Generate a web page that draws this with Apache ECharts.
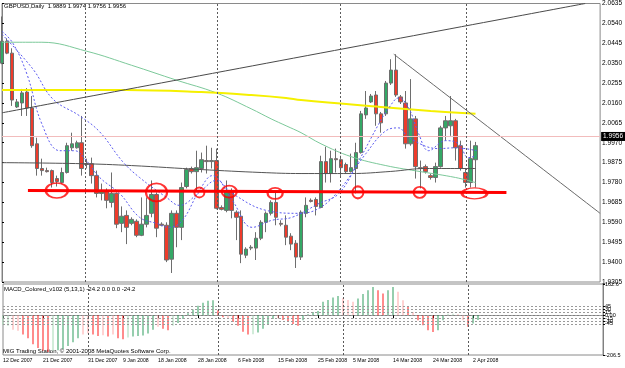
<!DOCTYPE html>
<html>
<head>
<meta charset="utf-8">
<script src="https://cdn.jsdelivr.net/npm/echarts@6/dist/echarts.min.js"></script>
<style>
html, body { margin: 0; padding: 0; background: #fff; }
#chart { width: 625px; height: 368px; }
</style>
</head>
<body>
<div id="chart"></div>
<script>
// GBPUSD daily candles (bar 0 = 12 Dec 2007)
const opens = [2.0350,2.0455,2.0398,2.0141,2.0160,2.0212,2.0136,1.9965,1.9847,1.9837,
  1.9837,1.9799,1.9780,1.9828,1.9946,1.9946,1.9970,1.9870,1.9870,1.9813,
  1.9728,1.9737,1.9685,1.9728,1.9585,1.9623,1.9585,1.9595,1.9528,1.9581,
  1.9633,1.9723,1.9581,1.9576,1.9414,1.9633,1.9566,1.9761,1.9847,1.9832,
  1.9847,1.9885,1.9880,1.9885,1.9661,1.9647,1.9742,1.9638,1.9619,1.9433,
  1.9467,1.9467,1.9514,1.9590,1.9633,1.9685,1.9585,1.9576,1.9524,1.9490,
  1.9424,1.9633,1.9695,1.9699,1.9661,1.9880,1.9823,1.9894,1.9889,1.9866,
  1.9832,1.9847,1.9923,2.0103,2.0165,2.0198,2.0108,2.0108,2.0255,2.0317,
  2.0189,2.0160,1.9965,2.0084,1.9851,1.9856,1.9813,1.9804,1.9856,2.0041,
  2.0051,2.0075,1.9956,1.9828,1.9780,1.9889];
const closes = [2.0455,2.0398,2.0174,2.0165,2.0208,2.0136,1.9956,1.9847,1.9837,1.9832,
  1.9780,1.9785,1.9828,1.9956,1.9965,1.9970,1.9847,1.9866,1.9813,1.9728,
  1.9742,1.9695,1.9728,1.9581,1.9619,1.9566,1.9604,1.9528,1.9581,1.9623,
  1.9723,1.9562,1.9576,1.9410,1.9633,1.9566,1.9756,1.9842,1.9832,1.9851,
  1.9889,1.9880,1.9885,1.9657,1.9652,1.9742,1.9647,1.9614,1.9438,1.9462,
  1.9471,1.9514,1.9590,1.9633,1.9685,1.9614,1.9581,1.9519,1.9486,1.9424,
  1.9638,1.9671,1.9690,1.9666,1.9880,1.9823,1.9894,1.9889,1.9851,1.9832,
  1.9851,1.9923,2.0108,2.0136,2.0193,2.0108,2.0065,2.0255,2.0317,2.0198,
  2.0165,1.9965,2.0084,1.9856,1.9847,1.9832,1.9804,1.9856,2.0041,2.0075,
  2.0075,1.9946,1.9847,1.9780,1.9894,1.9956];
const lows = [2.0345,2.0393,2.0146,2.0136,2.0098,2.0098,1.9946,1.9813,1.9813,1.9828,
  1.9756,1.9761,1.9775,1.9823,1.9932,1.9942,1.9813,1.9847,1.9775,1.9709,
  1.9695,1.9657,1.9661,1.9562,1.9543,1.9486,1.9576,1.9519,1.9524,1.9566,
  1.9614,1.9519,1.9571,1.9400,1.9348,1.9471,1.9505,1.9752,1.9823,1.9742,
  1.9828,1.9823,1.9847,1.9652,1.9647,1.9638,1.9609,1.9505,1.9395,1.9419,
  1.9457,1.9410,1.9505,1.9543,1.9623,1.9576,1.9571,1.9481,1.9457,1.9372,
  1.9410,1.9614,1.9685,1.9623,1.9657,1.9780,1.9780,1.9828,1.9804,1.9823,
  1.9828,1.9728,1.9918,2.0084,2.0160,2.0051,2.0018,2.0098,2.0246,2.0189,
  2.0155,1.9942,1.9956,1.9799,1.9752,1.9823,1.9794,1.9780,1.9851,1.9980,
  2.0003,1.9885,1.9837,1.9756,1.9756,1.9756];
const highs = [2.0573,2.0469,2.0421,2.0179,2.0227,2.0231,2.0193,1.9994,1.9894,1.9851,
  1.9842,1.9813,1.9851,1.9970,2.0018,1.9980,2.0098,1.9894,1.9899,1.9837,
  1.9775,1.9752,1.9828,1.9733,1.9666,1.9647,1.9614,1.9604,1.9709,1.9709,
  1.9790,1.9733,1.9590,1.9590,1.9647,1.9647,1.9780,1.9851,1.9856,1.9932,
  1.9923,1.9956,1.9946,1.9942,1.9671,1.9790,1.9752,1.9647,1.9647,1.9471,
  1.9481,1.9543,1.9600,1.9642,1.9695,1.9733,1.9600,1.9623,1.9538,1.9505,
  1.9647,1.9709,1.9704,1.9709,1.9908,1.9951,1.9932,1.9942,1.9908,1.9875,
  1.9918,1.9970,2.0122,2.0217,2.0203,2.0217,2.0117,2.0265,2.0369,2.0393,
  2.0198,2.0217,2.0274,2.0098,1.9885,1.9866,1.9823,1.9875,2.0051,2.0098,
  2.0193,2.0084,1.9980,1.9847,1.9980,1.9974];

// MACD_Colored histogram and its colour (G rising, g weak rise, R falling, r weak fall)
const macdValues = [-52,-55,-75,-80,-100,-120,-150,-170,-185,-191,
  -185,-182,-175,-160,-140,-120,-100,-95,-100,-108,
  -104,-110,-100,-120,-125,-115,-110,-108,-105,-95,
  -75,-60,-70,-78,-55,-40,-20,10,30,50,
  65,75,78,26,-10,-15,-35,-55,-85,-100,
  -98,-90,-70,-45,-20,-15,-25,-35,-45,-55,
  -26,5,17,22,70,80,92,100,90,80,
  70,87,110,130,147,130,113,130,147,122,
  78,43,17,-26,-52,-78,-87,-78,-26,8,
  8,5,-26,-60,-43,-24.2];
const macdTone = 'ggrrRRRRRR' + 'gGGGGGrrRR' + 'rRrRRgGGGG' + 'GrRRgGGGGG' + 'GGGRRrRRRR' +
  'gGGGGrRRRR' + 'GGGGGGGGrr' + 'rGGGGRRGGr' + 'rRrRRRRGGg' + 'grrRGG';

// indicator lines as [bar, price]
const blueFast = [[0,2.0502],[2.2,2.0445],[5,2.0298],[8,2.0060],[11.6,1.9932],[14.6,1.9932],[16.6,1.9894],
  [19.6,1.9804],[23.6,1.9728],[27.6,1.9614],[31,1.9585],[33.6,1.9566],[36.2,1.9600],[39.6,1.9742],
  [42.2,1.9813],[46.2,1.9695],[50.2,1.9566],[54.2,1.9600],[58.2,1.9614],[63.6,1.9680],[67.6,1.9728],
  [71.6,1.9885],[75.6,2.0060],[77.6,2.0136],[79.6,2.0184],[81.6,2.0136],[83.6,2.0013],[85.6,1.9932],
  [89,1.9980],[91.6,1.9965],[93.6,1.9899],[95.2,1.9908]];
const blueSlow = [[0,2.0488],[6.2,2.0322],[10.2,2.0179],[15.6,2.0098],[19.6,2.0022],[24.2,1.9880],
  [27.6,1.9804],[33,1.9709],[35.6,1.9671],[39.6,1.9733],[43,1.9790],[46.2,1.9728],[53,1.9647],
  [59.6,1.9633],[63.6,1.9657],[67.6,1.9742],[73,1.9918],[77,2.0027],[79.6,2.0041],[81.6,1.9994],
  [87.6,1.9942],[91,1.9946],[95.2,1.9932]];
const greenMa = [[0,2.0450],[8,2.0450],[17,2.0407],[26,2.0340],[35,2.0269],[43,2.0208],[50,2.0132],
  [54,2.0084],[57,2.0051],[60,2.0018],[64,1.9965],[70,1.9904],[77,1.9861],[84,1.9832],[91,1.9804],[95,1.9780]];
const yellowMa = [[0,2.0222],[25,2.0222],[40,2.0212],[50,2.0198],[57,2.0184],[60,2.0174],[76,2.0141],[86,2.0122],[95,2.0108]];
const blackMa = [[0,1.9875],[16,1.9870],[26,1.9861],[40,1.9842],[52,1.9828],[60,1.9823],[70,1.9823],[78,1.9833],[85,1.9847],[95,1.9847]];
const trendUp = [[0,2.0113],[117,2.0635]];
const trendDown = [[78.6,2.0393],[120,1.9633]];
const support = [[5.2,1.9742],[101.2,1.9733]];
const rings = [[11,1.9742],[31,1.9733],[39.6,1.9733],[45.6,1.9737],[54.8,1.9728],[71.4,1.9733],[83.8,1.9733],[94.8,1.9728]];
const ringSizes = [[22,15],[21,18],[10,10],[15,12],[15,11],[11,12],[12,11],[25,11]];
const monthSeps = [16.8, 43.2, 67.8, 93.2];

const lastPrice = 1.9956;
const priceTicks = [1.9305,1.9400,1.9495,1.9590,1.9685,1.9780,1.9875,1.9970,2.0065,2.0160,2.0255,2.0350,2.0445,2.0540,2.0635];
const macdTicks = [-206.5,-45,-30,-15,0,15,30,45,162.6];
const dateTicks = [[0,'12 Dec 2007'],[8,'21 Dec 2007'],[17,'31 Dec 2007'],[24,'9 Jan 2008'],[31,'18 Jan 2008'],
  [39,'28 Jan 2008'],[47,'6 Feb 2008'],[55,'15 Feb 2008'],[63,'25 Feb 2008'],[70,'5 Mar 2008'],
  [78,'14 Mar 2008'],[86,'24 Mar 2008'],[94,'2 Apr 2008']];

const slotCount = 121; // bar slots across the chart width, right part is empty
const slots = Array.from({ length: slotCount }, (_, i) => String(i));
const tickMap = {};
dateTicks.forEach(([i, t]) => { tickMap[String(i)] = t; });
const candles = opens.map((o, i) => [o, closes[i], lows[i], highs[i]]);
const toneColor = { G: '#2f9e5f', g: '#a3d9b4', R: '#ff1a1a', r: '#ffa6a6' };
const macdBars = macdValues.map((v, i) => ({ value: v, itemStyle: { color: toneColor[macdTone[i]] } }));

const font = 'Liberation Sans, Arial, sans-serif';
const chart = echarts.init(document.getElementById('chart'), null, { renderer: 'canvas', devicePixelRatio: 1 });

function overlay(data, color, width, type, z) {
    return {
        type: 'line',
        xAxisIndex: 1,
        yAxisIndex: 0,
        data: data,
        smooth: 0.4,
        showSymbol: false,
        silent: true,
        z: z || 3,
        lineStyle: { color: color, width: width, type: type || 'solid' }
    };
}

chart.setOption({
    animation: false,
    backgroundColor: '#fff',
    textStyle: { fontFamily: font },
    grid: [
        { left: 2, top: 2, width: 601, height: 280, show: true, borderColor: '#8a8a8a', borderWidth: 1 },
        { left: 2, top: 284, width: 601, height: 71, show: true, borderColor: '#8a8a8a', borderWidth: 1 }
    ],
    xAxis: [
        { type: 'category', gridIndex: 0, data: slots, boundaryGap: false, show: false },
        { type: 'value', gridIndex: 0, min: 0, max: slotCount - 1, show: false },
        {
            type: 'category',
            gridIndex: 1,
            data: slots,
            boundaryGap: false,
            axisLine: { lineStyle: { color: '#808080' } },
            axisTick: { interval: (i, v) => v in tickMap, length: 3, lineStyle: { color: '#000' } },
            axisLabel: {
                interval: (i, v) => v in tickMap,
                formatter: v => tickMap[v] || '',
                align: 'left',
                fontSize: 5.2,
                color: '#000',
                margin: 3
            },
            splitLine: { show: false }
        }
    ],
    yAxis: [
        {
            type: 'value',
            gridIndex: 0,
            position: 'right',
            min: 1.9305,
            max: 2.0635,
            axisLine: { show: true, lineStyle: { color: '#808080' } },
            axisTick: { show: true, customValues: priceTicks, length: 2, lineStyle: { color: '#000' } },
            axisLabel: { customValues: priceTicks, formatter: v => v.toFixed(4), fontSize: 6.5, color: '#000', margin: 2 },
            splitLine: { show: false }
        },
        {
            type: 'value',
            gridIndex: 1,
            position: 'right',
            min: -206.5,
            max: 162.6,
            axisLine: { show: true, lineStyle: { color: '#808080' } },
            axisTick: { show: true, customValues: macdTicks, length: 2, lineStyle: { color: '#000' } },
            axisLabel: {
                customValues: macdTicks,
                formatter: v => (v === 0 ? '0.00' : String(v)),
                fontSize: 5.5,
                color: '#000',
                margin: 2
            },
            splitLine: { show: false }
        }
    ],
    graphic: [
        { type: 'text', left: 4, top: 3, style: { text: 'GBPUSD,Daily  1.9889 1.9974 1.9756 1.9956', font: '6px ' + font, fill: '#000' } },
        { type: 'text', left: 4, top: 286, style: { text: 'MACD_Colored_v102 (5,13,1) -24.2 0.0 0.0 -24.2', font: '6px ' + font, fill: '#000' } },
        { type: 'text', left: 3, top: 348, style: { text: 'MIG Trading Station, © 2001-2008 MetaQuotes Software Corp.', font: '6px ' + font, fill: '#000' } }
    ],
    series: [
        {
            type: 'candlestick',
            xAxisIndex: 0,
            yAxisIndex: 0,
            data: candles,
            barWidth: 4,
            z: 2,
            itemStyle: {
                color: '#34a866',
                color0: '#ee3b2b',
                borderColor: '#6e6e6e',
                borderColor0: '#6e6e6e',
                borderWidth: 1
            },
            markLine: {
                silent: true,
                symbol: ['none', 'none'],
                lineStyle: { color: '#f2bcbc', type: 'solid', width: 1 },
                label: {
                    show: true,
                    position: 'end',
                    formatter: lastPrice.toFixed(4),
                    backgroundColor: '#000',
                    color: '#fff',
                    fontSize: 6.5,
                    padding: [1, 2],
                    distance: 1
                },
                data: [{ yAxis: lastPrice }]
            }
        },
        overlay(greenMa, '#7cc99a', 1),
        overlay(blackMa, '#555555', 1),
        overlay(yellowMa, '#f5f000', 2),
        overlay(blueSlow, '#5b5bf0', 1, [2, 2]),
        overlay(blueFast, '#5b5bf0', 1, [2, 2]),
        overlay(trendUp, '#4a4a4a', 1),
        overlay(trendDown, '#6a6a6a', 1),
        Object.assign(overlay(support, '#ff0000', 3, 'solid', 5), {
            markLine: {
                silent: true,
                symbol: ['none', 'none'],
                label: { show: false },
                lineStyle: { color: '#5a5a5a', type: [2, 2], width: 1 },
                data: monthSeps.map(v => ({ xAxis: v }))
            }
        }),
        {
            type: 'scatter',
            xAxisIndex: 1,
            yAxisIndex: 0,
            z: 6,
            silent: true,
            symbol: 'circle',
            data: rings.map((p, k) => ({ value: p, symbolSize: ringSizes[k] })),
            itemStyle: { color: 'rgba(0,0,0,0)', borderColor: '#ff0000', borderWidth: 2 }
        },
        {
            type: 'bar',
            xAxisIndex: 2,
            yAxisIndex: 1,
            data: macdBars,
            barWidth: 1,
            silent: true,
            markLine: {
                silent: true,
                symbol: ['none', 'none'],
                label: { show: false },
                lineStyle: { color: '#9a9a9a', type: [2, 2], width: 1 },
                data: [45, 30, 15, 0, -15, -30, -45].map(v => ({ yAxis: v }))
                    .concat(monthSeps.map(v => ({ xAxis: String(Math.round(v)), lineStyle: { color: '#5a5a5a' } })))
            }
        }
    ]
});
</script>
</body>
</html>
